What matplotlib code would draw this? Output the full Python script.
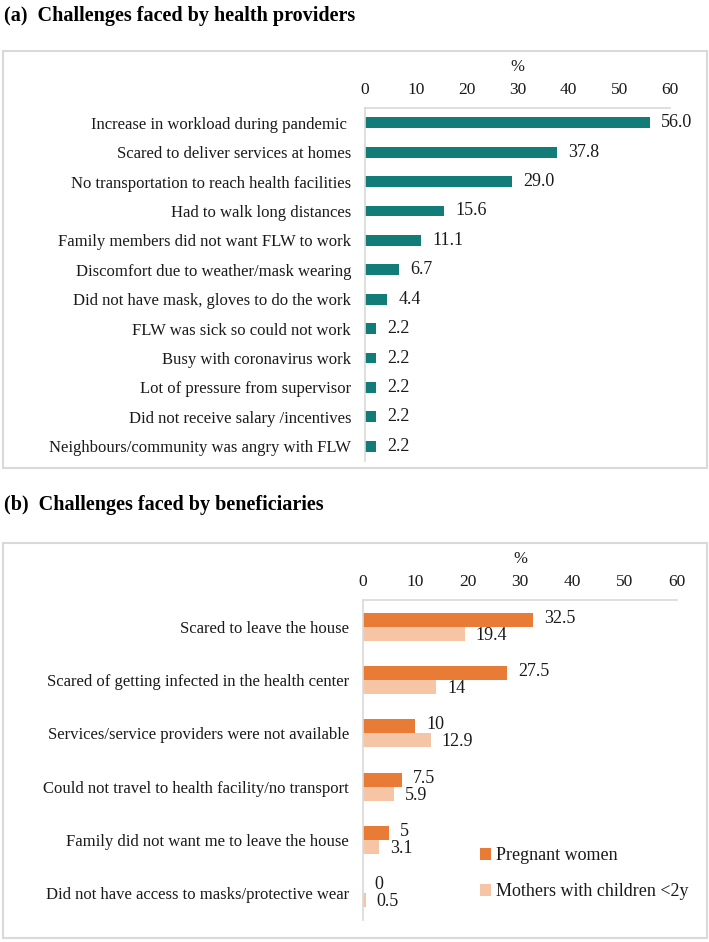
import numpy as np
import matplotlib
matplotlib.use("Agg")
import matplotlib.pyplot as plt
from matplotlib.patches import Rectangle

plt.rcParams['font.family'] = ['Liberation Serif', 'DejaVu Serif']

########## Data ##########
prov_labels = ["Increase in workload during pandemic ",
               "Scared to deliver services at homes",
               "No transportation to reach health facilities",
               "Had to walk long distances",
               "Family members did not want FLW to work",
               "Discomfort due to weather/mask wearing",
               "Did not have mask, gloves to do the work",
               "FLW was sick so could not work",
               "Busy with coronavirus work",
               "Lot of pressure from supervisor",
               "Did not receive salary /incentives",
               "Neighbours/community was angry with FLW"]
prov_values = [56.0, 37.8, 29.0, 15.6, 11.1, 6.7, 4.4, 2.2, 2.2, 2.2, 2.2, 2.2]

ben_labels = ["Scared to leave the house",
              "Scared of getting infected in the health center",
              "Services/service providers were not available",
              "Could not travel to health facility/no transport",
              "Family did not want me to leave the house",
              "Did not have access to masks/protective wear"]
pregnant = [32.5, 27.5, 10, 7.5, 5, 0]
mothers = [19.4, 14, 12.9, 5.9, 3.1, 0.5]
series_names = ["Pregnant women", "Mothers with children <2y"]
xticks = [0, 10, 20, 30, 40, 50, 60]

teal = "#127C78"
orange = "#E87C36"
peach = "#F6C5A6"
grey = "#D9D9D9"
txt = "#1a1a1a"
fs = 12

W, H = 709, 942
fig = plt.figure(figsize=(W / 100, H / 100), dpi=100)

def fx(px):
    return px / W

def fy(py):
    return 1 - py / H

# panel frames
for top, bot in [(51, 468), (543, 938)]:
    fig.add_artist(Rectangle((fx(3), fy(bot)), fx(704), (bot - top) / H,
                             transform=fig.transFigure, fill=False,
                             edgecolor=grey, linewidth=1.5))

fig.text(fx(4), fy(16), "(a)  Challenges faced by health providers", fontsize=14.5,
         fontweight="bold", va="center", ha="left", color="black")
fig.text(fx(4), fy(505), "(b)  Challenges faced by beneficiaries", fontsize=14.5,
         fontweight="bold", va="center", ha="left", color="black")

def style(ax):
    ax.set_xlim(0, 60)
    ax.set_xticks(xticks)
    ax.xaxis.tick_top()
    ax.xaxis.set_label_position("top")
    ax.set_xlabel("%", fontsize=fs, color=txt, labelpad=8)
    ax.tick_params(axis="both", length=0, labelsize=fs, colors=txt)
    ax.tick_params(axis="x", labelsize=12.5, pad=7)
    ax.tick_params(axis="y", pad=10)
    for s in ["right", "bottom"]:
        ax.spines[s].set_visible(False)
    for s in ["top", "left"]:
        ax.spines[s].set_color(grey)
        ax.spines[s].set_linewidth(1.2)

############ Panel (a) ############
ax_a = fig.add_axes([fx(365), fy(461), fx(670) - fx(365), (461 - 108) / H])
ya = np.arange(len(prov_labels))
ax_a.barh(ya, prov_values, height=0.37, color=teal)
ax_a.set_yticks(ya)
ax_a.set_yticklabels(prov_labels)
ax_a.set_ylim(len(prov_labels) - 0.5, -0.5)
style(ax_a)
for y, v in zip(ya, prov_values):
    ax_a.annotate(f"{v:.1f}", (v, y), xytext=(8, 0), textcoords="offset points",
                  va="center", ha="left", fontsize=13, color=txt)

############ Panel (b) ############
ax_b = fig.add_axes([fx(363), fy(920), fx(677) - fx(363), (920 - 600) / H])
yb = np.arange(len(ben_labels))
bh = 0.262
ax_b.barh(yb - bh / 2, pregnant, height=bh, color=orange, label=series_names[0])
ax_b.barh(yb + bh / 2, mothers, height=bh, color=peach, label=series_names[1])
ax_b.set_yticks(yb)
ax_b.set_yticklabels(ben_labels)
ax_b.set_ylim(len(ben_labels) - 0.5, -0.5)
style(ax_b)
for y, v in zip(yb, pregnant):
    ax_b.annotate(f"{v:g}", (v, y - bh / 2), xytext=(8, 1), textcoords="offset points",
                  va="center", ha="left", fontsize=13, color=txt)
for y, v in zip(yb, mothers):
    ax_b.annotate(f"{v:g}", (v, y + bh / 2), xytext=(8, -1), textcoords="offset points",
                  va="center", ha="left", fontsize=13, color=txt)

ax_b.legend(loc="upper left", bbox_to_anchor=(fx(464), fy(831)),
            bbox_transform=fig.transFigure, frameon=False, fontsize=13,
            handlelength=0.6, handleheight=0.6, handletextpad=0.3,
            labelspacing=1.05, labelcolor=txt)

fig.savefig("out.png", dpi=100)
